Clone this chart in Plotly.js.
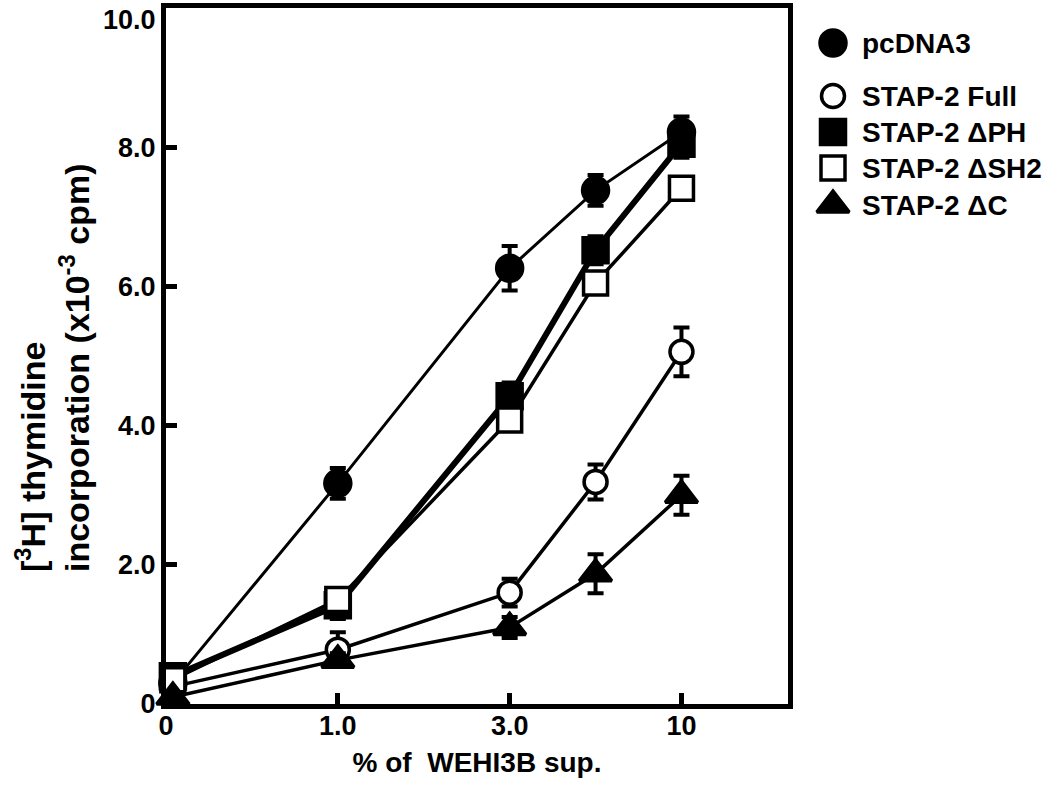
<!DOCTYPE html>
<html>
<head>
<meta charset="utf-8">
<script src="https://cdn.plot.ly/plotly-3.0.1.min.js"></script>
<style>html,body{margin:0;padding:0;background:#fff;}#chart{width:1063px;height:792px;}</style>
</head>
<body>
<div id="chart"></div>
<script>
// x positions (equally spaced dose steps) and tick labels
const xPos = [0.04, 1, 2, 2.5, 3];
const xTickVals = [0, 1, 2, 3];
const xTickText = ["0", "1.0", "3.0", "10"];
const yTickVals = [0, 2, 4, 6, 8];
const yTickText = ["0", "2.0", "4.0", "6.0", "8.0"];
const yTopLabel = "10.0";

const seriesNames = ["pcDNA3", "STAP-2 Full", "STAP-2 \u0394PH", "STAP-2 \u0394SH2", "STAP-2 \u0394C"];
const pcDNA3   = [0.30, 3.17, 6.26, 7.38, 8.22];
const full     = [0.25, 0.78, 1.60, 3.19, 5.06];
const dPH      = [0.40, 1.42, 4.42, 6.52, 8.05];
const dSH2     = [0.35, 1.50, 4.08, 6.05, 7.41];
const dC       = [0.10, 0.63, 1.10, 1.87, 3.00];

const pcDNA3Err = [0.05, 0.22, 0.32, 0.22, 0.22];
const fullErr   = [0.05, 0.25, 0.20, 0.25, 0.35];
const dPHErr    = [0.05, 0.20, 0.20, 0.20, 0.20];
const dSH2Err   = [0.05, 0.15, 0.15, 0.15, 0.15];
const dCErr     = [0.05, 0.10, 0.15, 0.28, 0.28];

const FONT = "Liberation Sans, Arial, sans-serif";
const styles = [
  {symbol: "circle", fill: "#000", size: 26, lw: 3},
  {symbol: "circle", fill: "#fff", size: 23, lw: 3.5},
  {symbol: "square", fill: "#000", size: 25, lw: 6},
  {symbol: "square", fill: "#fff", size: 24, lw: 3.5},
  {symbol: "triangle-up", fill: "#000", size: 28, lw: 3.5}
];
const series = [pcDNA3, full, dPH, dSH2, dC];
const errs = [pcDNA3Err, fullErr, dPHErr, dSH2Err, dCErr];

// legend layout (pixel offsets inside the legend area)
const legendRowY = [35, 88, 124, 160, 197];
const legendMarkX = 45, legendTextX = 72;

const data = series.map((y, i) => ({
  type: "scatter", mode: "lines+markers", name: seriesNames[i],
  x: xPos, y: y, showlegend: false, cliponaxis: false,
  error_y: {type: "data", array: errs[i], visible: true, color: "#000", thickness: 4, width: 8},
  line: {color: "#000", width: styles[i].lw},
  marker: {symbol: styles[i].symbol, size: styles[i].size, color: styles[i].fill, opacity: 1,
           line: {color: "#000", width: 3.5}}
}));

// legend symbols
data.push({
  type: "scatter", mode: "markers", xaxis: "x2", yaxis: "y2", showlegend: false, hoverinfo: "skip",
  x: seriesNames.map(() => legendMarkX), y: legendRowY, cliponaxis: false,
  marker: {
    symbol: styles.map(s => s.symbol),
    size: styles.map(s => s.size),
    color: styles.map(s => s.fill),
    opacity: 1,
    line: {color: "#000", width: 3.5}
  }
});

const W = 1063, ml = 166, mr = 10;
const plotW = W - ml - mr;
const mainFrac = 622 / plotW;

const annotations = seriesNames.map((n, i) => ({
  xref: "x2", yref: "y2", x: legendTextX, y: legendRowY[i], xanchor: "left", yanchor: "middle",
  text: n, showarrow: false, font: {family: FONT, size: 28, weight: "bold", color: "#000"}
}));
annotations.push({
  xref: "paper", yref: "y", x: 0, y: 10, xanchor: "right", yanchor: "middle",
  xshift: -8, yshift: -12, text: yTopLabel, showarrow: false,
  font: {family: FONT, size: 27, weight: "bold", color: "#000"}
});
annotations.push({
  xref: "paper", yref: "paper", x: (52 - ml) / plotW, y: (704 - 574) / 696,
  xanchor: "center", yanchor: "bottom", textangle: -90, align: "left",
  text: "[<sup>3</sup>H] thymidine<br>incorporation (x10<sup>-3</sup> cpm)", showarrow: false,
  font: {family: FONT, size: 34, weight: "bold", color: "#000"}
});

const layout = {
  width: W, height: 792,
  margin: {l: ml, r: mr, t: 8, b: 88},
  paper_bgcolor: "#fff", plot_bgcolor: "#fff",
  font: {family: FONT, color: "#000"},
  showlegend: false,
  xaxis: {
    domain: [0, mainFrac],
    range: [0, 3.62], tickmode: "array", tickvals: xTickVals, ticktext: xTickText,
    ticks: "inside", ticklen: 11, tickwidth: 5, tickcolor: "#000",
    showline: true, linewidth: 5, linecolor: "#000", mirror: true,
    showgrid: false, zeroline: false, ticklabelstandoff: -6,
    tickfont: {family: FONT, size: 27, weight: "bold"},
    title: {text: "% of\u00a0 WEHI3B sup.", font: {family: FONT, size: 28, weight: "bold"}, standoff: 13}
  },
  yaxis: {
    range: [0, 10], tickmode: "array", tickvals: yTickVals, ticktext: yTickText,
    ticks: "inside", ticklen: 11, tickwidth: 5, tickcolor: "#000",
    showline: true, linewidth: 5, linecolor: "#000", mirror: true,
    showgrid: false, zeroline: false,
    tickfont: {family: FONT, size: 27, weight: "bold"}
  },
  xaxis2: {domain: [mainFrac, 1], range: [0, W - mr - (ml + 622)], visible: false, fixedrange: true},
  yaxis2: {anchor: "x2", domain: [0, 1], range: [696, 0], visible: false, fixedrange: true},
  annotations: annotations
};

Plotly.newPlot("chart", data, layout, {displayModeBar: false, staticPlot: true});
</script>
</body>
</html>
